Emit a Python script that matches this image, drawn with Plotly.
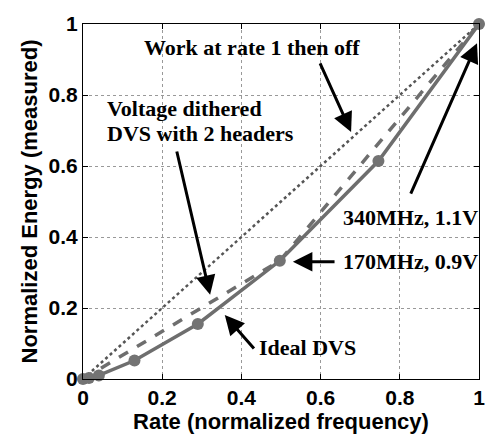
import plotly.graph_objects as go

# Data
ideal_x = [0.0, 0.015, 0.04, 0.13, 0.29, 0.497, 0.746, 1.0]
ideal_y = [0.0, 0.003, 0.01, 0.052, 0.155, 0.333, 0.614, 1.0]
dither_x = [0.0, 0.497, 1.0]
dither_y = [0.0, 0.333, 1.0]
work_x = [0.0, 1.0]
work_y = [0.0, 1.0]
tick_vals = [0, 0.2, 0.4, 0.6, 0.8, 1]
tick_text = ["0", "0.2", "0.4", "0.6", "0.8", "1"]

LINE = "#6e6e6e"
fig = go.Figure()
fig.add_trace(go.Scatter(x=work_x, y=work_y, mode="lines",
                         line=dict(color="#555555", width=2.5, dash="dot"),
                         cliponaxis=False, showlegend=False))
fig.add_trace(go.Scatter(x=dither_x, y=dither_y, mode="lines",
                         line=dict(color=LINE, width=3.5, dash="dash"),
                         cliponaxis=False, showlegend=False))
fig.add_trace(go.Scatter(x=ideal_x, y=ideal_y, mode="lines+markers",
                         line=dict(color=LINE, width=3.5),
                         marker=dict(color="#737373", size=12),
                         cliponaxis=False, showlegend=False))

tfont = dict(family="Liberation Serif", size=22, color="black", weight="bold")

def arrow(tx, ty, hx, hy):
    fig.add_annotation(x=hx, y=hy, ax=tx, ay=ty, xref="x", yref="y",
                       axref="x", ayref="y", text="", showarrow=True,
                       arrowhead=2, arrowsize=1.3, arrowwidth=3,
                       arrowcolor="black", standoff=0, startstandoff=0)

arrow(0.597, 0.893, 0.677, 0.696)
arrow(0.236, 0.645, 0.321, 0.237)
arrow(0.826, 0.518, 0.995, 0.946)
arrow(0.639, 0.330, 0.530, 0.330)
arrow(0.435, 0.082, 0.358, 0.180)

def label(text, x, y, xanchor="left", align="left"):
    fig.add_annotation(x=x, y=y, xref="x", yref="y", text=text, showarrow=False,
                       xanchor=xanchor, yanchor="middle", align=align, font=tfont)

label("Work at rate 1 then off", 0.428, 0.935, xanchor="center", align="center")
label("Voltage dithered", 0.055, 0.763)
label("DVS with 2 headers", 0.055, 0.692)
label("340MHz, 1.1V", 0.652, 0.456)
label("170MHz, 0.9V", 0.652, 0.330)
label("Ideal DVS", 0.44, 0.09)

axfont = dict(family="Liberation Sans", size=21, color="black", weight="bold")
common = dict(range=[0, 1], tickvals=tick_vals, ticktext=tick_text,
              showgrid=True, gridcolor="#999999", griddash="dot", gridwidth=1,
              zeroline=False, showline=True, linecolor="black", linewidth=1,
              mirror="ticks", ticks="inside", ticklen=5, tickcolor="black",
              tickfont=axfont)
fig.update_xaxes(**common, title=dict(text="Rate (normalized frequency)",
                 font=dict(family="Liberation Sans", size=22, color="black", weight="bold"),
                 standoff=4))
fig.update_yaxes(**common, title=dict(text="Normalized Energy (measured)",
                 font=dict(family="Liberation Sans", size=22, color="black", weight="bold"),
                 standoff=4))

fig.update_layout(width=492, height=443, margin=dict(l=83, r=7, t=24, b=64),
                  plot_bgcolor="white", paper_bgcolor="white")
fig.write_html("out.html")
